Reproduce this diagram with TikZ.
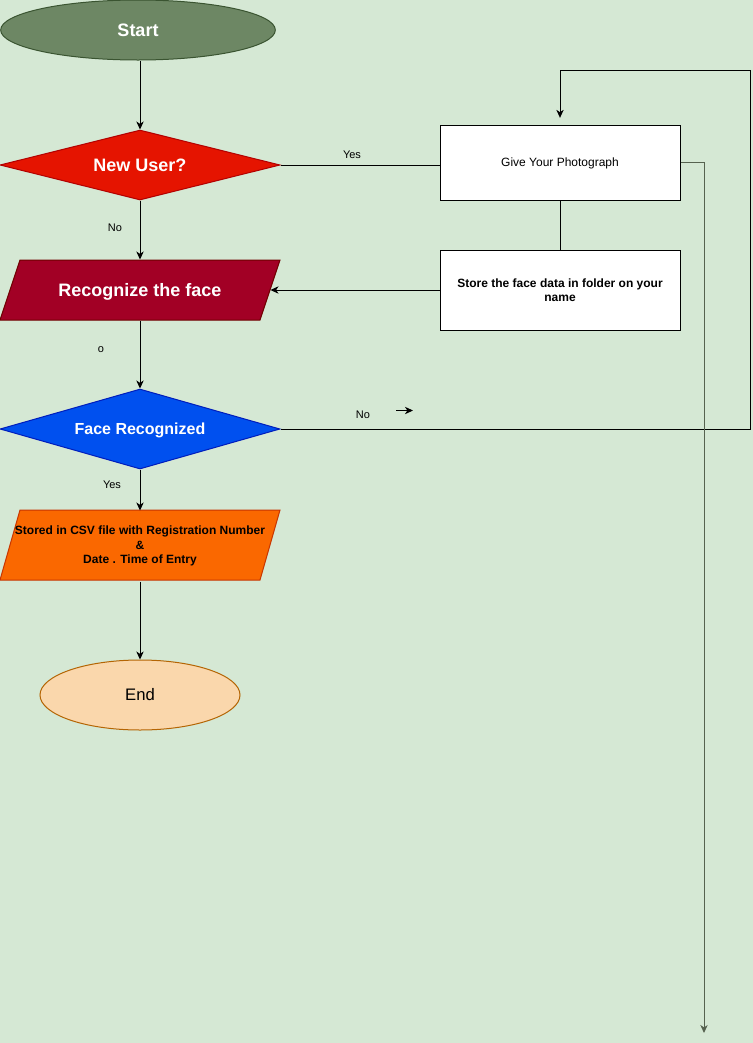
\documentclass[tikz,border=0pt]{standalone}
\usepackage{fontspec}
\setmainfont{Liberation Sans}
\usetikzlibrary{shapes.geometric, arrows.meta}
\definecolor{bgGreen}{HTML}{D5E8D4}
\definecolor{startFill}{HTML}{6D8764}
\definecolor{startLine}{HTML}{3A5431}
\definecolor{userFill}{HTML}{E51400}
\definecolor{userLine}{HTML}{B20000}
\definecolor{recogFill}{HTML}{A20025}
\definecolor{recogLine}{HTML}{6F0000}
\definecolor{faceFill}{HTML}{0050EF}
\definecolor{faceLine}{HTML}{001DBC}
\definecolor{csvFill}{HTML}{FA6800}
\definecolor{csvLine}{HTML}{C73500}
\definecolor{endFill}{HTML}{FAD7AC}
\definecolor{endLine}{HTML}{B46504}
\definecolor{sideLine}{HTML}{56624F}

\begin{document}
\begin{tikzpicture}[x=0.75pt,y=-0.75pt, line width=0.75pt,
  >={Stealth[length=6pt,width=5.5pt,inset=1.8pt]},
  bigtext/.style={text=white, font=\fontsize{13.5}{16}\selectfont\bfseries, text depth=0pt},
  decision/.style={diamond, draw, inner sep=0pt, minimum width=210pt, aspect=3.5},
  paratext/.style={rectangle, inner sep=0pt, minimum width=195pt},
  plainbox/.style={rectangle, draw=black, fill=white, minimum width=180pt, align=center,
    font=\fontsize{9}{10.5}\selectfont},
  lbl/.style={inner sep=0pt, font=\fontsize{8.25}{10}\selectfont}]
\useasboundingbox (0,0) rectangle (753,1043);
\fill[bgGreen] (0,0) rectangle (753,1043);
\filldraw[draw=recogLine, fill=recogFill] (20,260) -- (280,260) -- (260,320) -- (0,320) -- cycle;
\filldraw[draw=csvLine, fill=csvFill] (20,510) -- (280,510) -- (260,580) -- (0,580) -- cycle;
\node[ellipse, draw=startLine, fill=startFill, minimum width=206pt, minimum height=45pt, bigtext] (start) at (138,30) {Start};
\node[decision, draw=userLine, fill=userFill, minimum height=52.5pt, aspect=4, bigtext] (newuser) at (140,165) {New User?};
\node[paratext, minimum height=45pt, bigtext] (recog) at (140,290) {Recognize the face};
\node[decision, draw=faceLine, fill=faceFill, minimum height=60pt, text=white, text depth=0pt, font=\fontsize{12}{14}\selectfont\bfseries] (facerec) at (140,429) {Face Recognized};
\node[paratext, minimum height=52.5pt, align=center, font=\fontsize{9}{10.8}\selectfont\bfseries] (csv) at (140,546) {Stored in CSV file with Registration Number\\\&\\Date . Time of Entry};
\node[ellipse, draw=endLine, fill=endFill, minimum width=150pt, minimum height=52.5pt, font=\fontsize{12.5}{15}\selectfont] (end) at (140,695) {End};
\node[plainbox, minimum height=56.25pt, text depth=0pt] (photo) at (560,162.5) {Give Your Photograph};
\node[plainbox, minimum height=60pt, font=\fontsize{9}{10.5}\selectfont\bfseries] (store) at (560,290) {Store the face data in folder on your\\name};
\node[lbl] (yesUser) at (352,155) {Yes};
\node[lbl] (noUser) at (115,228) {No};
\node[lbl] (oRecog) at (101,350) {o};
\node[lbl] (noFace) at (363,415) {No};
\node[lbl] (yesFace) at (112,485) {Yes};
\coordinate (loopBR) at (750,429);
\coordinate (loopTR) at (750,70);
\coordinate (loopTL) at (560,70);
\coordinate (sideEnd) at (704,1033);
\coordinate (tickA) at (396,410.5);
\coordinate (tickB) at (413,410.5);
\draw[->] (start.south -| newuser.north) -- (newuser.north);
\draw (newuser.east) -- (newuser.east -| photo.west);
\draw[->] (newuser.south) -- (recog.north);
\draw (photo.south) -- (store.north);
\draw[->] (store.west) -- (recog.east);
\draw[->] (recog.south) -- (facerec.north);
\draw[->, shorten >=5pt] (facerec.east) -- (loopBR) -- (loopTR) -- (loopTL) -- (photo.north);
\draw[->] (tickA) -- (tickB);
\draw[->] (facerec.south) -- (csv.north);
\draw[->] (csv.south) -- (end.north);
\draw[->, draw=sideLine] (photo.east) -| (sideEnd);
\end{tikzpicture}
\end{document}
